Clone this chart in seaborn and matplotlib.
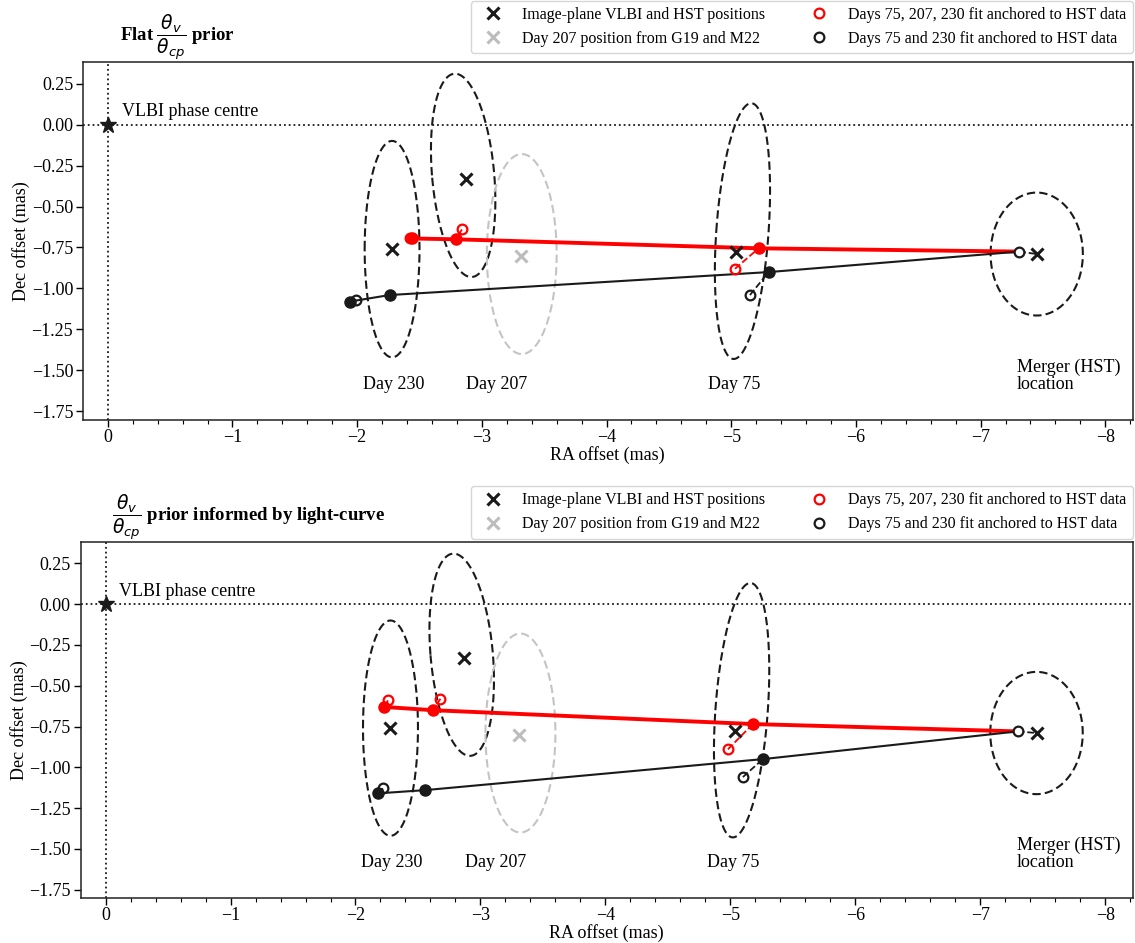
import numpy as np
import seaborn as sns
from matplotlib import pyplot as plt

sns.set_theme(style="ticks")
plt.rcParams['font.family'] = ['Liberation Serif', 'DejaVu Serif']
plt.rcParams['mathtext.fontset'] = 'dejavusans'
for key in ['text.color', 'axes.labelcolor', 'xtick.color', 'ytick.color', 'axes.edgecolor']:
    plt.rcParams[key] = 'black'

# image-plane positions (RA, Dec) in mas
cross_labels = ['Day 230', 'Day 207', 'Day 75', 'Merger']
cross_ra = [-2.28, -2.87, -5.04, -7.45]
cross_dec = [-0.76, -0.33, -0.78, -0.79]
g19_ra = [-3.31]
g19_dec = [-0.80]

# error ellipses: centre, half width, half height, shear of the top point (RA)
ell_ra = [-2.28, -2.85, -5.09, -7.45]
ell_dec = [-0.76, -0.31, -0.65, -0.79]
ell_w = [0.22, 0.25, 0.21, 0.37]
ell_h = [0.66, 0.62, 0.78, 0.375]
ell_shear = [0.0, 0.065, -0.07, 0.0]
g19_ell = (-3.32, -0.79, 0.28, 0.61)

# fitted tracks for both panels
panels = [
    dict(
        title=r"Flat $\dfrac{\theta_v}{\theta_{cp}}$ prior",
        red_ra=[-2.44, -2.79, -5.22, -7.31], red_dec=[-0.695, -0.70, -0.755, -0.775],
        red_open_ra=[-2.42, -2.84, -5.03], red_open_dec=[-0.69, -0.64, -0.88],
        blk_ra=[-1.94, -2.26, -5.30, -7.31], blk_dec=[-1.08, -1.04, -0.90, -0.775],
        blk_open_ra=[-1.99, -5.15], blk_open_dec=[-1.07, -1.04],
        red_pairs=[(0, 0), (1, 1), (2, 2)], blk_pairs=[(0, 0), (1, 2)],
    ),
    dict(
        title=r"$\dfrac{\theta_v}{\theta_{cp}}$ prior informed by light-curve",
        red_ra=[-2.23, -2.62, -5.18, -7.30], red_dec=[-0.63, -0.65, -0.735, -0.78],
        red_open_ra=[-2.26, -2.68, -4.98], red_open_dec=[-0.59, -0.58, -0.89],
        blk_ra=[-2.18, -2.56, -5.26, -7.30], blk_dec=[-1.16, -1.14, -0.95, -0.78],
        blk_open_ra=[-2.22, -5.10], blk_open_dec=[-1.13, -1.06],
        red_pairs=[(0, 0), (1, 1), (2, 2)], blk_pairs=[(0, 0), (1, 2)],
    ),
]
merger_open = [(-7.31, -0.775), (-7.30, -0.78)]

day_text = ['Day 230', 'Day 207', 'Day 75']
day_text_ra = [-2.29, -3.12, -5.02]


def ellipse(ax, cx, cy, w, h, s, color):
    t = np.linspace(0, 2 * np.pi, 300)
    ax.plot(cx + w * np.cos(t) + s * np.sin(t), cy + h * np.sin(t),
            ls=(0, (4, 2)), color=color, lw=1.5, zorder=1)


fig = plt.figure(figsize=(11.35, 9.43), dpi=100)
positions = [[0.073, 0.555, 0.925, 0.379], [0.071, 0.048, 0.927, 0.377]]
legend_y = [1.025, 1.01]

for k, p in enumerate(panels):
    ax = fig.add_axes(positions[k])
    ax.axvline(0, color='k', ls=':', lw=1.3, zorder=0)
    ax.axhline(0, color='k', ls=':', lw=1.3, zorder=0)
    ax.plot([0], [0], marker='*', color='k', ms=12, ls='none')
    ax.text(-0.11, 0.08, 'VLBI phase centre', fontsize=13, va='center', ha='left')

    for i in range(len(ell_ra)):
        ellipse(ax, ell_ra[i], ell_dec[i], ell_w[i], ell_h[i], ell_shear[i], 'k')
    ellipse(ax, g19_ell[0], g19_ell[1], g19_ell[2], g19_ell[3], 0.0, '#c4c4c4')

    # fitted tracks
    sns.lineplot(x=p['red_ra'], y=p['red_dec'], sort=False, estimator=None,
                 color='red', lw=2.8, ax=ax, zorder=3)
    sns.lineplot(x=p['blk_ra'], y=p['blk_dec'], sort=False, estimator=None,
                 color='k', lw=1.5, ax=ax, zorder=3)
    for i, j in p['red_pairs']:
        ax.plot([p['red_open_ra'][i], p['red_ra'][j]], [p['red_open_dec'][i], p['red_dec'][j]],
                color='red', ls='--', lw=1.3, zorder=3)
    for i, j in p['blk_pairs']:
        ax.plot([p['blk_open_ra'][i], p['blk_ra'][j]], [p['blk_open_dec'][i], p['blk_dec'][j]],
                color='k', ls='--', lw=1.3, zorder=3)
    ax.plot(p['red_ra'][:3], p['red_dec'][:3], 'o', color='red', ms=8, zorder=4)
    ax.plot(p['blk_ra'][:3], p['blk_dec'][:3], 'o', color='k', ms=8, zorder=4)
    mx, my = merger_open[k]
    ax.plot(mx, my, 'o', mfc='white', mec='k', mew=1.6, ms=7, zorder=5)
    ax.plot([mx, cross_ra[3]], [my, cross_dec[3]], color='k', ls='--', lw=1.3, zorder=3)

    h1, = ax.plot(cross_ra, cross_dec, 'x', color='k', mew=2.2, ms=8, ls='none', zorder=5,
                  label='Image-plane VLBI and HST positions')
    h2, = ax.plot(g19_ra, g19_dec, 'x', color='#bdbdbd', mew=2.2, ms=8, ls='none', zorder=5,
                  label='Day 207 position from G19 and M22')
    h3, = ax.plot(p['red_open_ra'], p['red_open_dec'], 'o', mfc='none', mec='red', mew=1.6,
                  ms=7, ls='none', zorder=5, label='Days 75, 207, 230 fit anchored to HST data')
    h4, = ax.plot(p['blk_open_ra'], p['blk_open_dec'], 'o', mfc='none', mec='k', mew=1.6,
                  ms=7, ls='none', zorder=5, label='Days 75 and 230 fit anchored to HST data')

    for t, xr in zip(day_text, day_text_ra):
        ax.text(xr, -1.585, t, fontsize=13, ha='center', va='center')
    ax.text(-7.29, -1.53, 'Merger (HST)\nlocation', fontsize=13, ha='left', va='center',
            linespacing=1.0)

    ax.set_xlim(0.2, -8.22)
    ax.set_ylim(-1.8, 0.38)
    ax.set_xticks(np.arange(0, -9, -1))
    ax.set_xticks(np.arange(0, -8.21, -0.2), minor=True)
    ax.set_yticks(np.arange(0.25, -1.8, -0.25))
    ax.tick_params(axis='both', which='major', labelsize=13, length=5, width=1, pad=2)
    ax.tick_params(axis='x', which='minor', length=3, width=0.8, bottom=True)
    for sp in ax.spines.values():
        sp.set_color('#222222')
        sp.set_linewidth(1.1)
    ax.set_xlabel('RA offset (mas)', fontsize=13, labelpad=0)
    ax.set_ylabel('Dec offset (mas)', fontsize=13, labelpad=1)
    ax.set_title(p['title'], loc='left', x=0.035 if k == 0 else 0.03, fontsize=13.5,
                 fontweight='bold', pad=6)
    ax.legend(handles=[h1, h2, h3, h4], ncol=2, loc='lower right',
              bbox_to_anchor=(1.0, legend_y[k]), borderaxespad=0, fontsize=11.5,
              frameon=True, fancybox=True, columnspacing=2.4, handletextpad=0.8,
              labelspacing=0.5, borderpad=0.4)

fig.savefig('out.png', dpi=100)
